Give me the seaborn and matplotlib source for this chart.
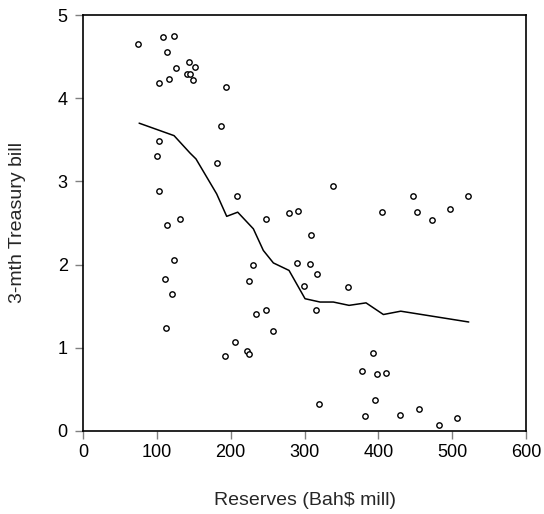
import numpy as np
import pandas as pd
import seaborn as sns
import matplotlib.pyplot as plt

# scatter points: reserves (Bah$ mill) vs 3-month treasury bill rate
reserves = [74.5, 108.8, 123.3, 113.8, 143.6, 126.4, 151.7, 141.3, 145.0, 149.0,
            116.5, 102.5, 193.2, 187.0, 103.4, 99.7, 181.0, 103.4, 209.0, 131.4,
            247.4, 113.3, 122.8, 111.0, 121.0, 112.0, 229.8, 225.3, 247.8, 234.3,
            256.9, 206.3, 192.3, 222.5, 224.4, 338.2, 447.5, 521.5, 278.6, 291.2,
            405.0, 452.3, 496.7, 472.7, 308.8, 290.3, 307.0, 317.0, 298.9, 359.4,
            316.0, 392.8, 378.3, 397.6, 410.8, 320.0, 396.0, 382.5, 428.8, 454.5,
            482.2, 506.6]
tbill = [4.65, 4.74, 4.75, 4.56, 4.43, 4.36, 4.37, 4.29, 4.29, 4.22,
         4.23, 4.18, 4.13, 3.66, 3.48, 3.31, 3.22, 2.89, 2.83, 2.55,
         2.55, 2.48, 2.05, 1.83, 1.65, 1.24, 1.99, 1.80, 1.46, 1.41,
         1.20, 1.07, 0.90, 0.96, 0.93, 2.95, 2.82, 2.82, 2.62, 2.65,
         2.63, 2.63, 2.67, 2.54, 2.36, 2.02, 2.01, 1.89, 1.74, 1.73,
         1.45, 0.94, 0.72, 0.69, 0.70, 0.33, 0.37, 0.18, 0.19, 0.26,
         0.07, 0.16]

# fitted (nonparametric) line
fit_x = [76.0, 123.3, 145.0, 153.0, 181.0, 194.6, 209.5, 230.7, 244.2, 257.8,
         279.0, 300.7, 321.0, 339.0, 360.3, 383.3, 406.8, 430.3, 522.4]
fit_y = [3.70, 3.55, 3.34, 3.27, 2.85, 2.58, 2.63, 2.43, 2.17, 2.02,
         1.93, 1.59, 1.55, 1.55, 1.51, 1.54, 1.40, 1.44, 1.31]

df = pd.DataFrame({"reserves": reserves, "tbill": tbill})
fit = pd.DataFrame({"x": fit_x, "y": fit_y})

sns.set_style("ticks")
plt.rcParams["font.family"] = ["Liberation Sans", "DejaVu Sans"]

fig = plt.figure(figsize=(5.44, 5.14), dpi=100)
ax = fig.add_axes([0.1526, 0.1615, 0.8144, 0.8093])

sns.scatterplot(data=df, x="reserves", y="tbill", ax=ax, marker="o",
                facecolor="white", edgecolor="black", linewidth=1.0, s=15, zorder=3)
sns.lineplot(data=fit, x="x", y="y", ax=ax, sort=False, color="black",
             linewidth=1.1, zorder=2)

ax.set_xlim(0, 600)
ax.set_ylim(0, 5)
ax.set_xticks(range(0, 601, 100))
ax.set_yticks(range(0, 6))
ax.tick_params(direction="out", length=5.5, width=1, color="#808080",
               labelsize=13, labelcolor="black")
ax.tick_params(axis="x", pad=4)
ax.tick_params(axis="y", pad=5.5)
for s in ax.spines.values():
    s.set_visible(True)
    s.set_color("black")
    s.set_linewidth(1.2)

ax.set_xlabel("Reserves (Bah$ mill)", fontsize=14, va="center")
ax.set_ylabel("3-mth Treasury bill", fontsize=14, va="center")
ax.xaxis.set_label_coords(0.5, -0.166)
ax.yaxis.set_label_coords(-0.147, 0.5)

fig.savefig("out.png", dpi=100)
